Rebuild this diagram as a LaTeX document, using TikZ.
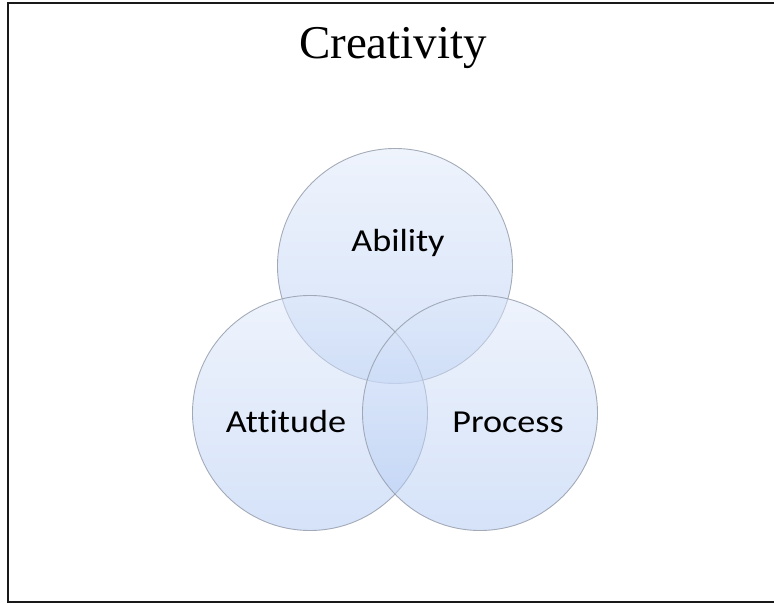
\documentclass[tikz,border=0pt]{standalone}
\usepackage{fontspec}
\setmainfont{Liberation Serif}
\newfontfamily\lblfont[FakeStretch=1.13,Ligatures=NoCommon,RawFeature=-liga]{Carlito}
\begin{document}
\begin{tikzpicture}[x=1pt,y=-1pt,
  venn/.style={circle, minimum size=235pt, inner sep=0pt,
    top color=vtop, bottom color=vbot, fill opacity=0.5,
    draw=vline, draw opacity=0.85, line width=0.9pt},
  lbl/.style={anchor=base, inner sep=0pt, font=\lblfont\fontsize{32}{36}\selectfont, text=black},
  ttl/.style={anchor=base, inner sep=0pt, font=\fontsize{47}{52}\selectfont, text=black}]
\definecolor{vtop}{RGB}{222,232,250}
\definecolor{vbot}{RGB}{172,198,242}
\definecolor{vline}{RGB}{150,158,172}
\useasboundingbox (0,0) rectangle (774,604);
\draw[line width=2pt, draw=black!90] (8,3.5) rectangle (790,602);
\node[ttl] (title) at (393,59) {Creativity};
\node[venn] (ability) at (395,266) {};
\node[venn] (attitude) at (310,413) {};
\node[venn] (process) at (480,413) {};
\node[lbl] (labA) at (398,251.5) {Ability};
\node[lbl] (labT) at (286,432) {Attitude};
\node[lbl] (labP) at (508,432) {Process};
\end{tikzpicture}
\end{document}
